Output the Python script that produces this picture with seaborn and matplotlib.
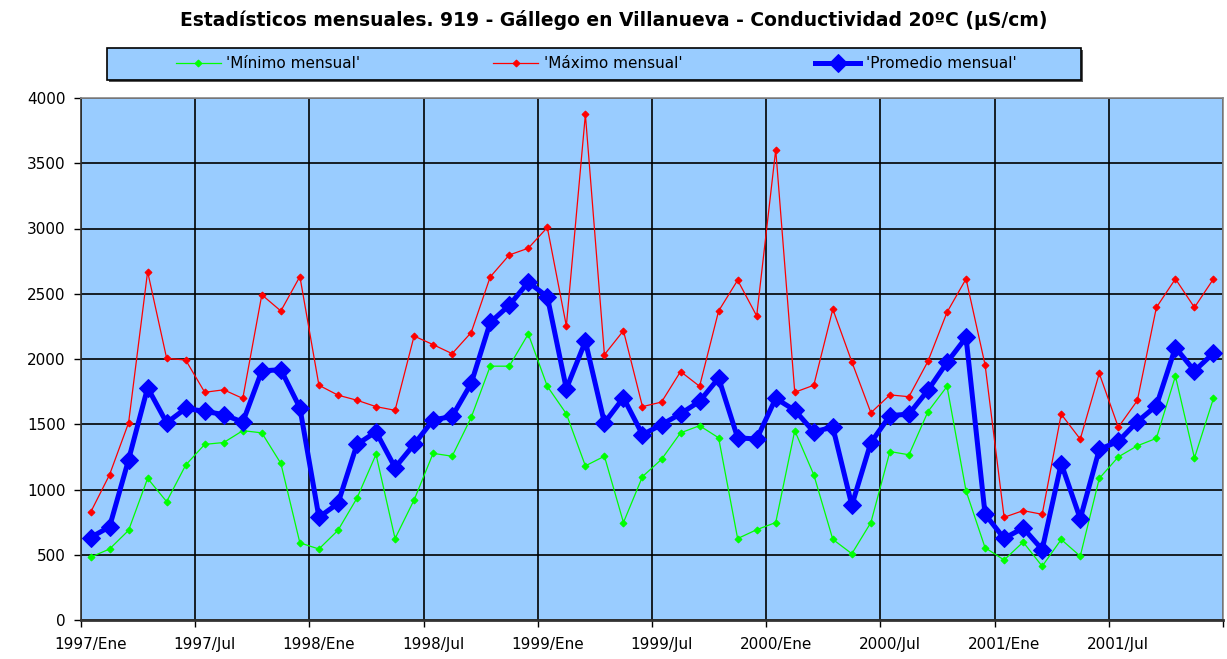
import numpy as np
import pandas as pd
import matplotlib
matplotlib.use("Agg")
import matplotlib.pyplot as plt
from matplotlib.patches import Rectangle
import seaborn as sns

# monthly values, 1997/Ene .. 2001/Dic
minimo = [481, 544, 687, 1085, 907, 1187, 1346, 1360, 1451, 1434, 1200, 591,
          544, 687, 934, 1269, 624, 920, 1277, 1255, 1552, 1945, 1945, 2192,
          1791, 1580, 1181, 1255, 747, 1099, 1231, 1434, 1489, 1396, 624, 692,
          747, 1451, 1113, 618, 508, 747, 1291, 1266, 1597, 1790, 989, 554,
          460, 597, 412, 617, 489, 1085, 1250, 1335, 1392, 1869, 1241, 1699]
maximo = [824, 1113, 1511, 2670, 2005, 1992, 1745, 1764, 1698, 2492, 2368, 2632,
          1799, 1723, 1684, 1635, 1607, 2176, 2110, 2041, 2203, 2629, 2797, 2849,
          3008, 2253, 3874, 2033, 2217, 1635, 1670, 1904, 1791, 2368, 2604, 2330,
          3604, 1745, 1799, 2382, 1978, 1588, 1725, 1711, 1983, 2358, 2614, 1955,
          787, 838, 810, 1577, 1386, 1889, 1477, 1682, 2395, 2614, 2395, 2614]
promedio = [632, 714, 1228, 1780, 1511, 1621, 1599, 1574, 1516, 1909, 1918, 1626,
            788, 893, 1346, 1442, 1168, 1346, 1533, 1560, 1813, 2280, 2412, 2588,
            2478, 1772, 2135, 1511, 1703, 1420, 1497, 1580, 1676, 1854, 1396, 1387,
            1698, 1607, 1442, 1478, 879, 1360, 1566, 1578, 1761, 1974, 2165, 810,
            625, 705, 540, 1199, 776, 1307, 1369, 1520, 1642, 2088, 1909, 2045]
tick_labels = ["1997/Ene", "1997/Jul", "1998/Ene", "1998/Jul", "1999/Ene",
               "1999/Jul", "2000/Ene", "2000/Jul", "2001/Ene", "2001/Jul"]

mes = np.arange(len(promedio))
df = pd.DataFrame({"mes": mes, "minimo": minimo, "maximo": maximo, "promedio": promedio})

plt.rcParams["font.family"] = ["DejaVu Sans"]
W, H = 1227, 659
fig = plt.figure(figsize=(W / 100, H / 100), dpi=100)
ax = fig.add_axes([81 / W, 1 - 620 / H, (1223 - 81) / W, (620 - 98) / H])
ax.set_facecolor("#99CCFF")

sns.lineplot(data=df, x="mes", y="minimo", ax=ax, color="#00FF00", lw=0.9,
             marker="D", markersize=3.5, markeredgecolor="#00FF00",
             label="'Mínimo mensual'", zorder=3)
sns.lineplot(data=df, x="mes", y="maximo", ax=ax, color="#FF0000", lw=0.9,
             marker="D", markersize=3.5, markeredgecolor="#FF0000",
             label="'Máximo mensual'", zorder=3)
sns.lineplot(data=df, x="mes", y="promedio", ax=ax, color="#0000FF", lw=3.6,
             marker="D", markersize=9, markeredgecolor="#0000FF",
             label="'Promedio mensual'", zorder=4)

ax.set_xlim(-0.5, 59.5)
ax.set_ylim(0, 4000)
ax.set_yticks(np.arange(0, 4001, 500))
ax.set_xticks(np.arange(0, 60, 6), tick_labels)
ax.set_xticks(np.arange(-0.5, 60.5, 6), minor=True)
ax.tick_params(axis="x", which="major", length=0, pad=12, labelsize=11)
ax.tick_params(axis="x", which="minor", length=5, width=1, color="black")
ax.tick_params(axis="y", length=5, width=1, labelsize=11, pad=6)
ax.grid(which="minor", axis="x", color="black", lw=1.2)
ax.grid(which="major", axis="y", color="black", lw=1.2)
ax.set_axisbelow(True)
ax.set_xlabel("")
ax.set_ylabel("")
for s in ax.spines.values():
    s.set_color("#333333")
    s.set_linewidth(1.2)
ax.spines["bottom"].set_linewidth(2)
ax.spines["top"].set_color("#888888")
ax.spines["right"].set_color("#888888")

# legend box
fig.add_artist(Rectangle((109 / W, 1 - 82 / H), 974 / W, 32 / H, transform=fig.transFigure,
                         facecolor="#555555", edgecolor="none", zorder=1))
fig.add_artist(Rectangle((107 / W, 1 - 80 / H), 974 / W, 32 / H, transform=fig.transFigure,
                         facecolor="#99CCFF", edgecolor="black", lw=1.2, zorder=2))
handles, labels = ax.get_legend_handles_labels()
ax.get_legend().remove()
leg = fig.legend(handles, labels, ncol=3, loc="center",
                 bbox_to_anchor=(596 / W, 1 - 64 / H), frameon=False, fontsize=11,
                 handlelength=2.95, handletextpad=0.35, columnspacing=8.7)
leg.set_zorder(3)

fig.suptitle("Estadísticos mensuales. 919 - Gállego en Villanueva - Conductividad 20ºC (µS/cm)",
             y=1 - 20 / H, va="center", fontsize=13.5, fontweight="bold")

fig.savefig("out.png", dpi=100)
